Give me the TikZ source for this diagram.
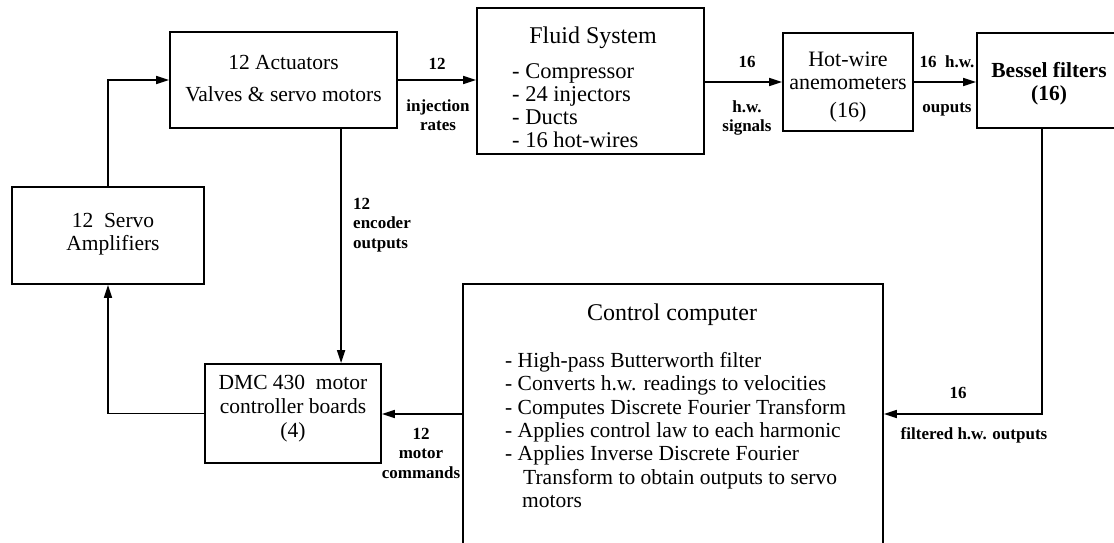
\documentclass[tikz,border=0pt]{standalone}
\usepackage{fontspec}
\setmainfont{Liberation Serif}
\usetikzlibrary{arrows.meta,calc}
\begin{document}
\begin{tikzpicture}[x=1pt,y=-1pt,
  box/.style={draw,line width=1.8pt,inner sep=0pt},
  txt/.style={inner sep=0pt,align=center,font=\fontsize{21.5}{23.3}\selectfont},
  ttl/.style={inner sep=0pt,font=\fontsize{24}{26}\selectfont},
  lbl/.style={inner sep=0pt,align=center,font=\fontsize{17}{19.5}\selectfont\bfseries},
  wire/.style={line width=1.6pt},
  arr/.style={wire,-{Triangle[length=13pt,width=8pt]}}]
\useasboundingbox (0,0) rectangle (1114,542);
\clip (0,0) rectangle (1114,542);
% boxes
\node[box,minimum width=227pt,minimum height=96pt] (act) at (283.5,80) {};
\node[txt] (actT) at (283.5,79) {12 Actuators\\[8.7pt]Valves \& servo motors};
\node[box,minimum width=227pt,minimum height=146pt] (fluid) at (590.5,81) {};
\node[ttl] (fluidT) at (593,38) {Fluid System};
\node[txt,align=left,anchor=west,font=\fontsize{22.5}{23}\selectfont] (fluidL) at (512,106) {- Compressor\\- 24 injectors\\- Ducts\\- 16 hot-wires};
\node[box,minimum width=130pt,minimum height=98pt] (hot) at (848,82) {};
\node[txt,font=\fontsize{22}{23.3}\selectfont] (hotT) at (848,87) {Hot-wire\\anemometers\\[4pt](16)};
\node[box,minimum width=143pt,minimum height=95pt] (bes) at (1048.5,80.5) {};
\node[txt,font=\fontsize{21.5}{23.3}\selectfont\bfseries] (besT) at (1049,83.5) {Bessel filters\\(16)};
\node[box,minimum width=192pt,minimum height=97pt] (servo) at (108,235.5) {};
\node[txt,align=center] (servoT) at (113,234) {12~~Servo\\Amplifiers};
\node[box,minimum width=176pt,minimum height=99pt] (dmc) at (293,413.5) {};
\node[txt] (dmcT) at (293,409) {DMC 430~~motor\\controller boards\\[1.5pt](4)};
\node[box,minimum width=420pt,minimum height=260pt] (ctrl) at (673,414) {};
\node[ttl] (ctrlT) at (672,315) {Control computer};
\node[txt,align=left,anchor=west] (ctrlL) at (505,430) {- High-pass Butterworth filter\\- Converts h.w. readings to velocities\\- Computes Discrete Fourier Transform\\- Applies control law to each harmonic\\- Applies Inverse Discrete Fourier\\\hspace*{18pt}Transform to obtain outputs to servo\\\hspace*{17pt}motors};
% connectors
\coordinate (encTop) at ($(act.south west)+(172,0)$);
\coordinate (besOut) at ($(bes.south west)+(66,0)$);
\draw[arr] (servo.north) |- (act.west);
\draw[arr] (act.east) -- (act.east -| fluid.west);
\draw[arr] (hot.west -| fluid.east) -- (hot.west);
\draw[arr] (hot.east) -- (hot.east -| bes.west);
\draw[arr] (encTop) -- (encTop |- dmc.north);
\draw[arr] (besOut) |- (ctrl.east);
\draw[arr] (ctrl.west) -- (ctrl.west -| dmc.east);
\draw[arr] (dmc.west) -| (servo.south);
% labels
\node[lbl] (l1) at (437,64) {12};
\node[lbl] (l2) at (438,115) {injection\\rates};
\node[lbl] (l3) at (747,62) {16};
\node[lbl] (l4) at (747,118) {h.w.\\signals};
\node[lbl] (l5) at (947,62) {16~~h.w.};
\node[lbl] (l6) at (947,110) {ouputs};
\node[lbl,align=left,anchor=west] (l7) at (353,225) {12\\encoder\\outputs};
\node[lbl] (l8) at (421,453) {12\\motor\\commands};
\node[lbl] (l9) at (958,393) {16};
\node[lbl] (l10) at (974,435) {filtered h.w. outputs};
\end{tikzpicture}
\end{document}
